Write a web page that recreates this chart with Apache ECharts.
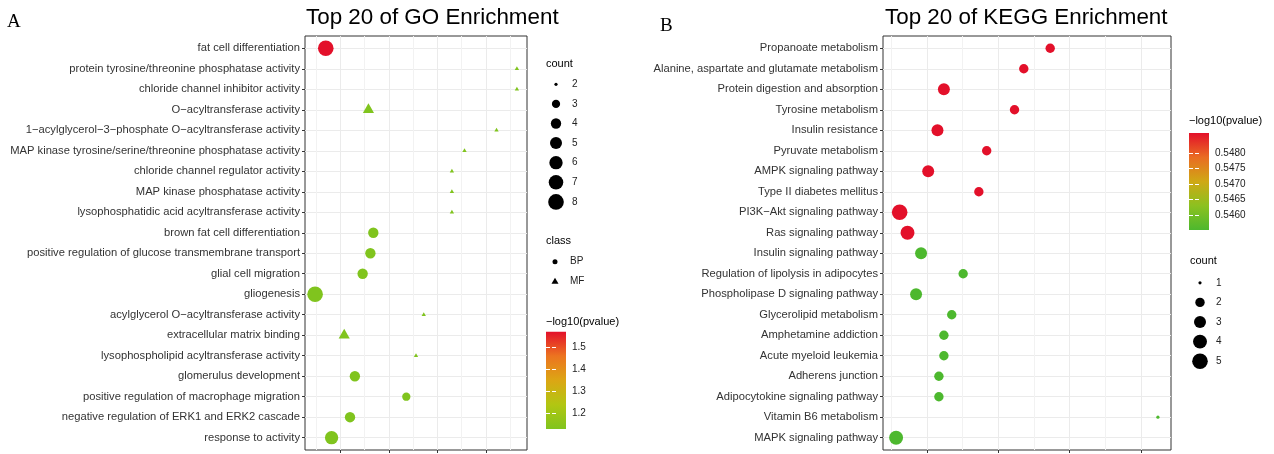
<!DOCTYPE html>
<html lang="en">
<head>
<meta charset="UTF-8">
<title>Top 20 of GO / KEGG Enrichment</title>
<script src="https://cdn.jsdelivr.net/npm/echarts@6/dist/echarts.min.js"></script>
<style>html,body{margin:0;padding:0;background:#fff;}</style>
</head>
<body>
<div id="main" style="width:1274px;height:454px;"></div>
<script type="text/javascript">
    // ---- GO (panel A) ----
    var goTerms = ['fat cell differentiation', 'protein tyrosine/threonine phosphatase activity',
        'chloride channel inhibitor activity', 'O\u2212acyltransferase activity',
        '1\u2212acylglycerol\u22123\u2212phosphate O\u2212acyltransferase activity',
        'MAP kinase tyrosine/serine/threonine phosphatase activity', 'chloride channel regulator activity',
        'MAP kinase phosphatase activity', 'lysophosphatidic acid acyltransferase activity',
        'brown fat cell differentiation', 'positive regulation of glucose transmembrane transport',
        'glial cell migration', 'gliogenesis', 'acylglycerol O\u2212acyltransferase activity',
        'extracellular matrix binding', 'lysophospholipid acyltransferase activity',
        'glomerulus development', 'positive regulation of macrophage migration',
        'negative regulation of ERK1 and ERK2 cascade', 'response to activity'];
    var goRatio = [0.035, 0.232, 0.232, 0.079, 0.211, 0.178, 0.165, 0.165, 0.165, 0.084,
        0.081, 0.073, 0.024, 0.136, 0.054, 0.128, 0.065, 0.118, 0.060, 0.041];
    var goCount = [8, 2, 2, 3, 2, 2, 2, 2, 2, 4, 4, 4, 8, 2, 3, 2, 4, 3, 4, 6];
    var goClass = ['BP', 'MF', 'MF', 'MF', 'MF', 'MF', 'MF', 'MF', 'MF', 'BP',
        'BP', 'BP', 'BP', 'MF', 'MF', 'MF', 'BP', 'BP', 'BP', 'BP'];
    var goLogP = [1.573, 1.128, 1.128, 1.128, 1.128, 1.128, 1.128, 1.128, 1.128, 1.128,
        1.128, 1.128, 1.128, 1.128, 1.128, 1.128, 1.128, 1.128, 1.128, 1.128];
    var goMajor = [0.05, 0.10, 0.15, 0.20];
    var goMinor = [0.025, 0.075, 0.125, 0.175, 0.225];
    var goCountKeys = ['2', '3', '4', '5', '6', '7', '8'];
    var goClassKeys = ['BP', 'MF'];
    var goColorTicks = [1.2, 1.3, 1.4, 1.5];
    var goColors = ['#80c41e', '#b2c612', '#dca614', '#ec7420', '#e3102a'];

    // ---- KEGG (panel B) ----
    var keggTerms = ['Propanoate metabolism', 'Alanine, aspartate and glutamate metabolism',
        'Protein digestion and absorption', 'Tyrosine metabolism', 'Insulin resistance',
        'Pyruvate metabolism', 'AMPK signaling pathway', 'Type II diabetes mellitus',
        'PI3K\u2212Akt signaling pathway', 'Ras signaling pathway', 'Insulin signaling pathway',
        'Regulation of lipolysis in adipocytes', 'Phospholipase D signaling pathway',
        'Glycerolipid metabolism', 'Amphetamine addiction', 'Acute myeloid leukemia',
        'Adherens junction', 'Adipocytokine signaling pathway', 'Vitamin B6 metabolism',
        'MAPK signaling pathway'];
    var keggRatio = [0.273, 0.236, 0.124, 0.223, 0.115, 0.184, 0.102, 0.173, 0.062, 0.073,
        0.092, 0.151, 0.085, 0.135, 0.124, 0.124, 0.117, 0.117, 0.424, 0.057];
    var keggCount = [2, 2, 3, 2, 3, 2, 3, 2, 5, 4, 3, 2, 3, 2, 2, 2, 2, 2, 1, 4];
    var keggLogP = [0.54866, 0.54866, 0.54866, 0.54866, 0.54866, 0.54866, 0.54866, 0.54866, 0.54866, 0.54866,
        0.54551, 0.54551, 0.54551, 0.54551, 0.54551, 0.54551, 0.54551, 0.54551, 0.54551, 0.54551];
    var keggMajor = [0.1, 0.2, 0.3, 0.4];
    var keggMinor = [0.05, 0.15, 0.25, 0.35];
    var keggCountKeys = ['1', '2', '3', '4', '5'];
    var keggColorTicks = [0.5460, 0.5465, 0.5470, 0.5475, 0.5480];
    var keggColors = ['#4db82e', '#8cc120', '#cfa815', '#e96c22', '#e3102a'];

    var FONT = 'Liberation Sans';

    // ggplot-like area size scale
    function dotSize(c, cmin, cmax) {
        return 3.2 + 12.4 * Math.sqrt((c - cmin) / (cmax - cmin));
    }
    function triSize(d) { return [d * 1.35, d * 1.17]; }

    function makePoints(x, count, cls, logp, cmin, cmax) {
        return x.map(function (v, i) {
            var d = dotSize(count[i], cmin, cmax);
            var tri = cls && cls[i] === 'MF';
            return {
                value: [v, i + 1, count[i], logp[i]],
                symbol: tri ? 'triangle' : 'circle',
                symbolSize: tri ? triSize(d) : d,
                symbolOffset: tri ? [0, -d * 1.17 / 6] : [0, 0]
            };
        });
    }
    // 5% expansion on each side, like ggplot
    function padRange(arr) {
        var lo = Math.min.apply(null, arr), hi = Math.max.apply(null, arr);
        var p = (hi - lo) * 0.05;
        return [lo - p, hi + p];
    }
    function gradient(colors) {
        var c = colors.slice().reverse();
        return {
            type: 'linear', x: 0, y: 0, x2: 0, y2: 1,
            colorStops: c.map(function (col, i) { return {offset: i / (c.length - 1), color: col}; })
        };
    }

    var goX = padRange(goRatio), keggX = padRange(keggRatio);
    var goP = [Math.min.apply(null, goLogP), Math.max.apply(null, goLogP)];
    var keggP = [Math.min.apply(null, keggLogP), Math.max.apply(null, keggLogP)];
    var rows = goTerms.map(function (t, i) { return i + 1; });

    function mainY(grid, terms) {
        return {
            gridIndex: grid, type: 'value', min: 0.4, max: 20.6, inverse: true,
            axisLine: {show: false},
            axisTick: {show: true, length: 3, lineStyle: {color: '#333'}, customValues: rows},
            axisLabel: {
                customValues: rows, margin: 5, fontSize: 11.2, color: '#333', fontFamily: FONT,
                formatter: function (v) { return terms[Math.round(v) - 1]; }
            },
            splitLine: {show: true, lineStyle: {color: '#ebebeb', width: 1}}
        };
    }
    function majorX(grid, ext, ticks) {
        return {
            gridIndex: grid, type: 'value', min: ext[0], max: ext[1], position: 'bottom',
            axisLine: {show: false},
            axisTick: {show: true, length: 3, lineStyle: {color: '#333'}, customValues: ticks},
            axisLabel: {show: false},
            splitLine: {show: true, lineStyle: {color: '#ebebeb', width: 1}}
        };
    }
    function minorX(grid, ext, ticks) {
        return {
            gridIndex: grid, type: 'value', min: ext[0], max: ext[1], position: 'top',
            axisLine: {show: false},
            axisTick: {show: false, customValues: ticks},
            axisLabel: {show: false},
            splitLine: {show: true, lineStyle: {color: '#f2f2f2', width: 1}}
        };
    }
    function hiddenX(grid) {
        return {gridIndex: grid, type: 'value', min: -1, max: 1, show: false};
    }
    function keyY(grid, keys, margin) {
        return {
            gridIndex: grid, type: 'category', data: keys, inverse: true, position: 'right',
            axisLine: {show: false}, axisTick: {show: false}, splitLine: {show: false},
            axisLabel: {margin: margin, fontSize: 10, color: '#222', fontFamily: FONT}
        };
    }
    function barY(grid, ext, ticks, pos, digits) {
        return {
            gridIndex: grid, type: 'value', min: ext[0], max: ext[1], position: pos,
            axisLine: {show: false}, splitLine: {show: false},
            axisTick: {show: true, inside: true, length: 4, lineStyle: {color: '#fff'}, customValues: ticks},
            axisLabel: {
                show: pos === 'right', customValues: ticks, margin: 6, fontSize: 10, color: '#222',
                fontFamily: FONT, formatter: function (v) { return v.toFixed(digits); }
            }
        };
    }
    function txt(text, left, top, size, family) {
        return {
            text: text, left: left, top: top, padding: 0,
            textStyle: {fontSize: size, fontWeight: 'normal', color: '#000', fontFamily: family || FONT}
        };
    }

    var myChart = echarts.init(document.getElementById('main'));

    var option = {
        backgroundColor: '#fff',
        animation: false,
        title: [
            txt('A', 7, 13, 19, 'Liberation Serif'),
            txt('Top 20 of GO Enrichment', 306, 7, 22.4),
            txt('B', 660, 17, 19, 'Liberation Serif'),
            txt('Top 20 of KEGG Enrichment', 885, 7, 22.4),
            txt('count', 546, 58, 11),
            txt('class', 546, 235, 11),
            txt('\u2212log10(pvalue)', 546, 316, 11),
            txt('\u2212log10(pvalue)', 1189, 115, 11),
            txt('count', 1190, 255, 11)
        ],
        grid: [
            {left: 305, top: 36, width: 222, height: 414, show: true, borderColor: '#333', borderWidth: 1, backgroundColor: '#fff'},
            {left: 883, top: 36, width: 288, height: 414, show: true, borderColor: '#333', borderWidth: 1, backgroundColor: '#fff'},
            {left: 548, top: 74.5, width: 16, height: 137.2},
            {left: 547, top: 251.7, width: 16, height: 40},
            {left: 546, top: 331.7, width: 20, height: 97.3, show: true, borderWidth: 0, backgroundColor: gradient(goColors)},
            {left: 1192, top: 273, width: 16, height: 98},
            {left: 1189, top: 133, width: 20, height: 97, show: true, borderWidth: 0, backgroundColor: gradient(keggColors)}
        ],
        xAxis: [
            majorX(0, goX, goMajor), minorX(0, goX, goMinor),
            majorX(1, keggX, keggMajor), minorX(1, keggX, keggMinor),
            hiddenX(2), hiddenX(3), hiddenX(4), hiddenX(5), hiddenX(6)
        ],
        yAxis: [
            mainY(0, goTerms), mainY(1, keggTerms),
            keyY(2, goCountKeys, 8), keyY(3, goClassKeys, 7),
            barY(4, goP, goColorTicks, 'right', 1), barY(4, goP, goColorTicks, 'left', 1),
            keyY(5, keggCountKeys, 8),
            barY(6, keggP, keggColorTicks, 'right', 4), barY(6, keggP, keggColorTicks, 'left', 4)
        ],
        visualMap: [
            {type: 'continuous', show: false, seriesIndex: 0, dimension: 3, min: goP[0], max: goP[1], inRange: {color: goColors}},
            {type: 'continuous', show: false, seriesIndex: 1, dimension: 3, min: keggP[0], max: keggP[1], inRange: {color: keggColors}}
        ],
        series: [
            {
                name: 'GO', type: 'scatter', xAxisIndex: 0, yAxisIndex: 0, silent: true,
                itemStyle: {opacity: 1},
                data: makePoints(goRatio, goCount, goClass, goLogP, 2, 8)
            },
            {
                name: 'KEGG', type: 'scatter', xAxisIndex: 2, yAxisIndex: 1, silent: true,
                itemStyle: {opacity: 1},
                data: makePoints(keggRatio, keggCount, null, keggLogP, 1, 5)
            },
            {
                name: 'GO count', type: 'scatter', xAxisIndex: 4, yAxisIndex: 2, silent: true,
                itemStyle: {color: '#000', opacity: 1},
                data: goCountKeys.map(function (k) {
                    return {value: [0, k], symbolSize: dotSize(+k, 2, 8)};
                })
            },
            {
                name: 'GO class', type: 'scatter', xAxisIndex: 5, yAxisIndex: 3, silent: true,
                itemStyle: {color: '#000', opacity: 1},
                data: [
                    {value: [0, 'BP'], symbol: 'circle', symbolSize: 5},
                    {value: [0, 'MF'], symbol: 'triangle', symbolSize: [7, 6], symbolOffset: [0, -1]}
                ]
            },
            {
                name: 'KEGG count', type: 'scatter', xAxisIndex: 7, yAxisIndex: 6, silent: true,
                itemStyle: {color: '#000', opacity: 1},
                data: keggCountKeys.map(function (k) {
                    return {value: [0, k], symbolSize: dotSize(+k, 1, 5)};
                })
            }
        ]
    };

    myChart.setOption(option);
</script>
</body>
</html>
